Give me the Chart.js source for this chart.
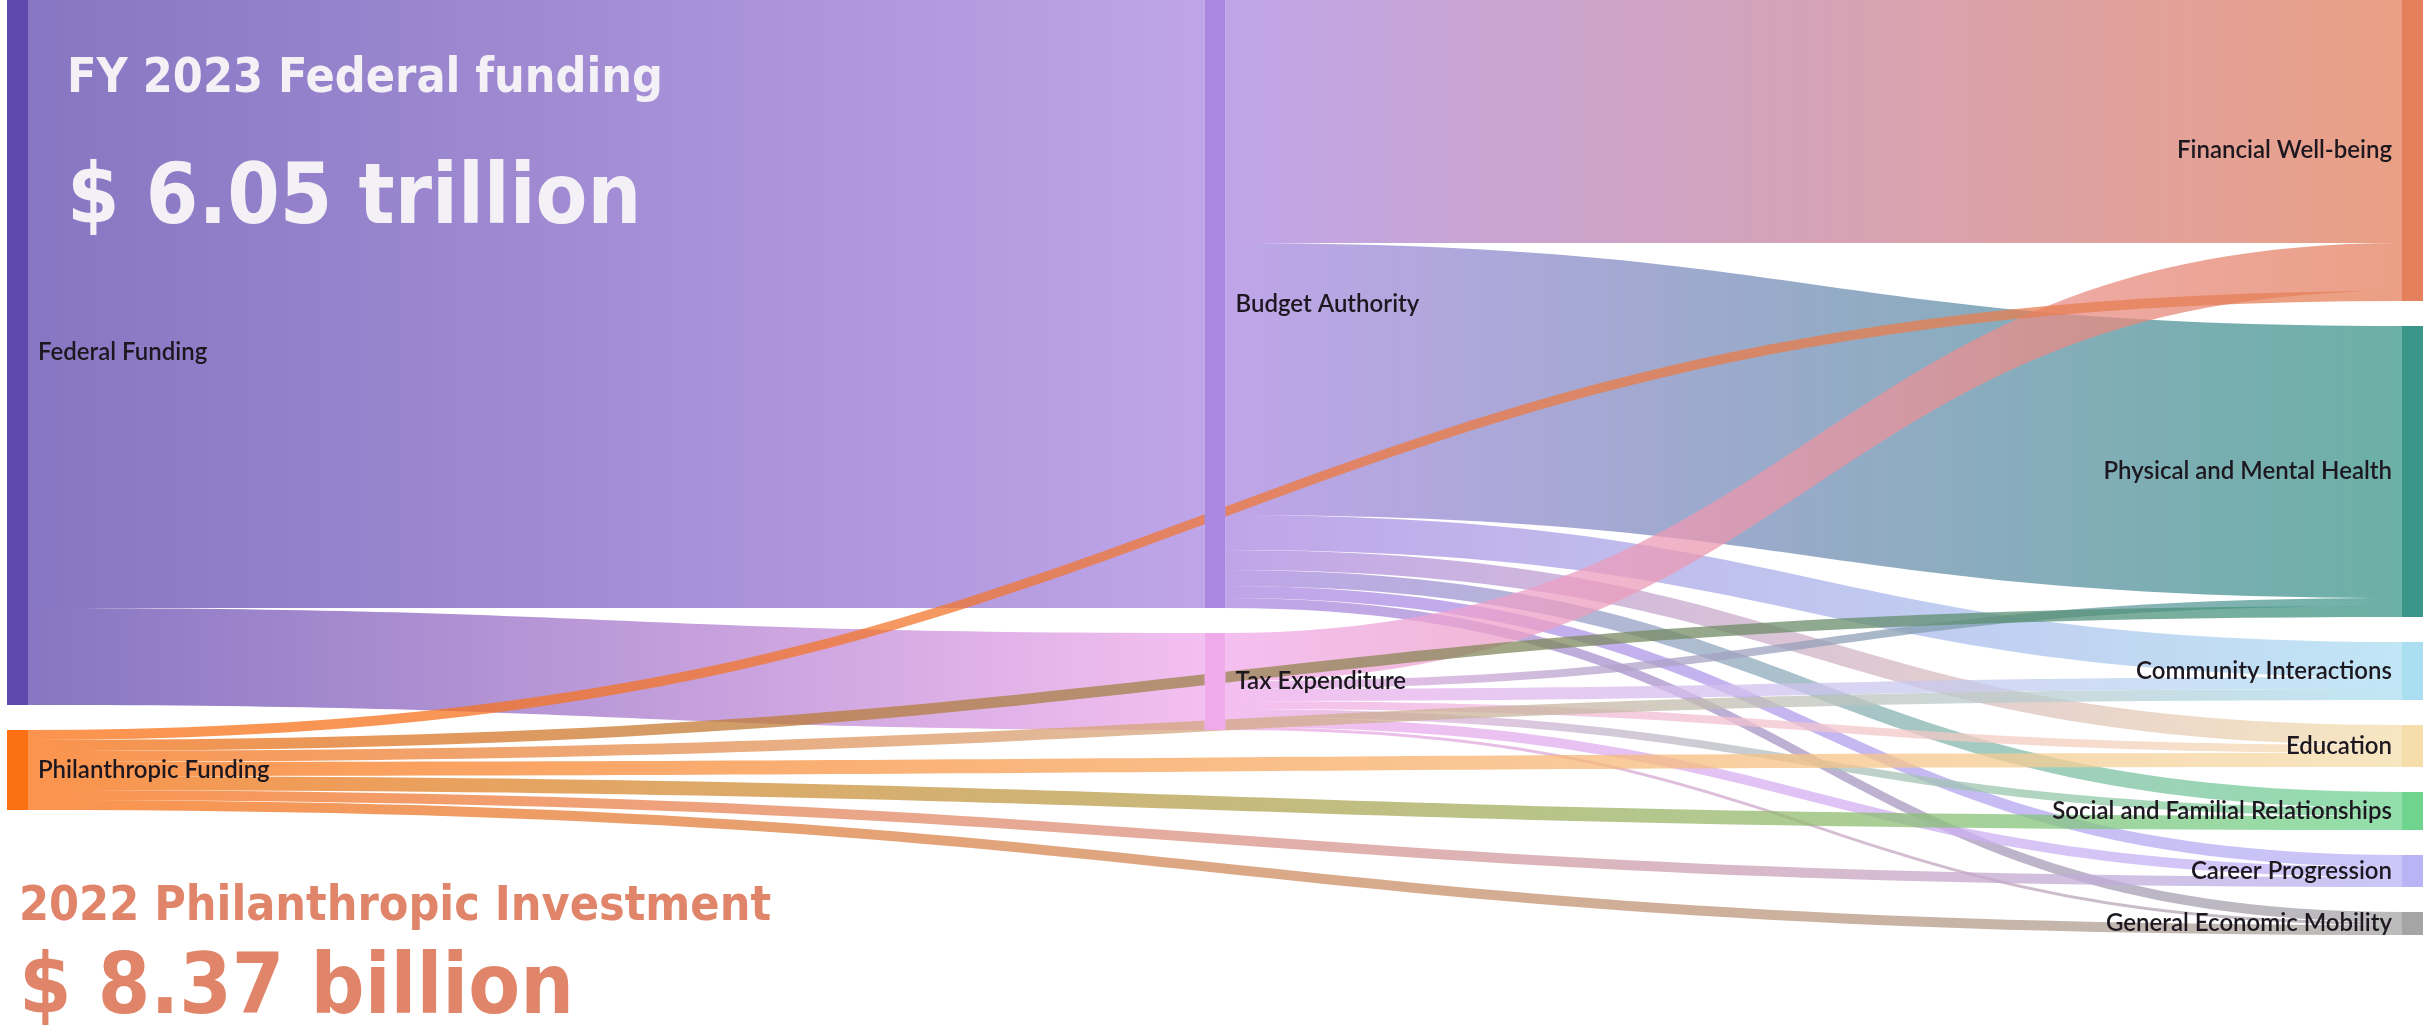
<!DOCTYPE html>
<html>
<head>
<meta charset="utf-8">
<title>Federal and Philanthropic Funding Flows</title>
<script src="https://cdn.jsdelivr.net/npm/chart.js@4.4.1/dist/chart.umd.min.js"></script>
<style>
    html, body { margin: 0; padding: 0; background: #ffffff; }
    #sankeyChart { display: block; }
</style>
</head>
<body>
<canvas id="sankeyChart" width="2423" height="1026"></canvas>
<script>
// Nodes: name, column and colour
var nodeNames = [
    'Federal Funding', 'Philanthropic Funding',
    'Budget Authority', 'Tax Expenditure',
    'Financial Well-being', 'Physical and Mental Health', 'Community Interactions',
    'Education', 'Social and Familial Relationships', 'Career Progression',
    'General Economic Mobility'
];
var nodeColumns = [0, 0, 1, 1, 2, 2, 2, 2, 2, 2, 2];
var nodeColors = [
    '#5f48ad', '#fa7012',
    '#aa87e1', '#f0aaeb',
    '#e4805c', '#3a9688', '#acdef2',
    '#f5deac', '#6ed48e', '#b9b4f6',
    '#a5a5a5'
];

// Flows (weights in drawing units)
var flowFrom = [
    'Federal Funding', 'Federal Funding',
    'Budget Authority', 'Budget Authority', 'Budget Authority', 'Budget Authority',
    'Budget Authority', 'Budget Authority', 'Budget Authority',
    'Tax Expenditure', 'Tax Expenditure', 'Tax Expenditure', 'Tax Expenditure',
    'Tax Expenditure', 'Tax Expenditure', 'Tax Expenditure',
    'Philanthropic Funding', 'Philanthropic Funding', 'Philanthropic Funding', 'Philanthropic Funding',
    'Philanthropic Funding', 'Philanthropic Funding', 'Philanthropic Funding'
];
var flowTo = [
    'Budget Authority', 'Tax Expenditure',
    'Financial Well-being', 'Physical and Mental Health', 'Community Interactions', 'Education',
    'Social and Familial Relationships', 'Career Progression', 'General Economic Mobility',
    'Financial Well-being', 'Physical and Mental Health', 'Community Interactions', 'Education',
    'Social and Familial Relationships', 'Career Progression', 'General Economic Mobility',
    'Financial Well-being', 'Physical and Mental Health', 'Community Interactions', 'Education',
    'Social and Familial Relationships', 'Career Progression', 'General Economic Mobility'
];
var flowWeights = [
    608, 97,
    243, 272, 35, 20, 16, 12, 10,
    48, 8, 12, 8, 8, 10, 3,
    10, 11, 11, 14, 14, 10, 10
];

// Headline texts
var federalTitle = 'FY 2023 Federal funding';
var federalTotal = '$ 6.05 trillion';
var philanthropicTitle = '2022 Philanthropic Investment';
var philanthropicTotal = '$ 8.37 billion';

var NODE_WIDTH = 21;
var NODE_GAP = 25;
var FLOW_ALPHA = 0.75;

function withAlpha(hex, a) {
    var r = parseInt(hex.substr(1, 2), 16);
    var g = parseInt(hex.substr(3, 2), 16);
    var b = parseInt(hex.substr(5, 2), 16);
    return 'rgba(' + r + ',' + g + ',' + b + ',' + a + ')';
}

// Work out node sizes and vertical positions (in value units)
function buildLayout() {
    var nodes = nodeNames.map(function(name, i) {
        return { name: name, col: nodeColumns[i], color: nodeColors[i], inSum: 0, outSum: 0, y: 0, size: 0, inOff: 0, outOff: 0 };
    });
    var byName = {};
    nodes.forEach(function(n) { byName[n.name] = n; });

    var flows = flowFrom.map(function(f, i) {
        return { from: byName[f], to: byName[flowTo[i]], value: flowWeights[i] };
    });
    flows.forEach(function(fl) {
        fl.from.outSum += fl.value;
        fl.to.inSum += fl.value;
    });

    var colTop = {};
    nodes.forEach(function(n) {
        n.size = Math.max(n.inSum, n.outSum);
        var top = colTop[n.col] || 0;
        n.y = top;
        colTop[n.col] = top + n.size + NODE_GAP;
    });

    // outgoing bands ordered by target position, incoming by source position
    nodes.forEach(function(n) {
        flows.filter(function(fl) { return fl.from === n; })
            .sort(function(a, b) { return a.to.y - b.to.y; })
            .forEach(function(fl) { fl.y0 = n.y + n.outOff; n.outOff += fl.value; });
        flows.filter(function(fl) { return fl.to === n; })
            .sort(function(a, b) { return a.from.y - b.from.y; })
            .forEach(function(fl) { fl.y1 = n.y + n.inOff; n.inOff += fl.value; });
    });

    return { nodes: nodes, flows: flows };
}

var layout = buildLayout();

var sankeyPlugin = {
    id: 'sankeyPlugin',
    beforeDatasetsDraw: function(chart) {
        var ctx = chart.ctx;
        var xs = chart.scales.x;
        var ys = chart.scales.y;

        // flows
        layout.flows.forEach(function(fl) {
            var x0 = xs.getPixelForValue(fl.from.col) + NODE_WIDTH;
            var x1 = xs.getPixelForValue(fl.to.col);
            var y0t = ys.getPixelForValue(fl.y0);
            var y0b = ys.getPixelForValue(fl.y0 + fl.value);
            var y1t = ys.getPixelForValue(fl.y1);
            var y1b = ys.getPixelForValue(fl.y1 + fl.value);
            var cx = (x0 + x1) / 2;

            var grad = ctx.createLinearGradient(x0, 0, x1, 0);
            grad.addColorStop(0, withAlpha(fl.from.color, FLOW_ALPHA));
            grad.addColorStop(1, withAlpha(fl.to.color, FLOW_ALPHA));

            ctx.save();
            ctx.fillStyle = grad;
            ctx.beginPath();
            ctx.moveTo(x0, y0t);
            ctx.bezierCurveTo(cx, y0t, cx, y1t, x1, y1t);
            ctx.lineTo(x1, y1b);
            ctx.bezierCurveTo(cx, y1b, cx, y0b, x0, y0b);
            ctx.closePath();
            ctx.fill();
            ctx.restore();
        });

        // nodes and their labels
        layout.nodes.forEach(function(n) {
            var x = xs.getPixelForValue(n.col);
            var top = ys.getPixelForValue(n.y);
            var bottom = ys.getPixelForValue(n.y + n.size);
            ctx.fillStyle = n.color;
            ctx.fillRect(x, top, NODE_WIDTH, bottom - top);

            ctx.save();
            ctx.font = '600 24px Lato, "Noto Sans", sans-serif';
            ctx.fillStyle = '#1d1820';
            ctx.textBaseline = 'middle';
            var midY = (top + bottom) / 2;
            if (n.col === 2) {
                ctx.textAlign = 'right';
                ctx.fillText(n.name, x - 10, midY);
            } else {
                ctx.textAlign = 'left';
                ctx.fillText(n.name, x + NODE_WIDTH + 10, midY);
            }
            ctx.restore();
        });
    },
    afterDraw: function(chart) {
        var ctx = chart.ctx;
        ctx.save();
        ctx.textAlign = 'left';
        ctx.textBaseline = 'alphabetic';

        ctx.fillStyle = '#f3f1f6';
        ctx.font = 'bold 48px "DejaVu Sans Condensed", "DejaVu Sans", sans-serif';
        ctx.fillText(federalTitle, 67, 92);
        ctx.font = 'bold 84px "DejaVu Sans Condensed", "DejaVu Sans", sans-serif';
        ctx.fillText(federalTotal, 67, 223);

        ctx.fillStyle = '#e0856a';
        ctx.font = 'bold 48px "DejaVu Sans Condensed", "DejaVu Sans", sans-serif';
        ctx.fillText(philanthropicTitle, 19, 920);
        ctx.font = 'bold 84px "DejaVu Sans Condensed", "DejaVu Sans", sans-serif';
        ctx.fillText(philanthropicTotal, 19, 1013);
        ctx.restore();
    }
};

new Chart(document.getElementById('sankeyChart'), {
    type: 'scatter',
    data: {
        datasets: [{
            data: [],
            pointRadius: 0
        }]
    },
    options: {
        responsive: false,
        animation: false,
        layout: {
            padding: { left: 7, right: NODE_WIDTH, top: 0, bottom: 0 }
        },
        plugins: {
            legend: { display: false },
            tooltip: { enabled: false }
        },
        scales: {
            x: { type: 'linear', min: 0, max: 2, display: false },
            y: { type: 'linear', min: 0, max: 1026, reverse: true, display: false }
        }
    },
    plugins: [sankeyPlugin]
});
</script>
</body>
</html>
